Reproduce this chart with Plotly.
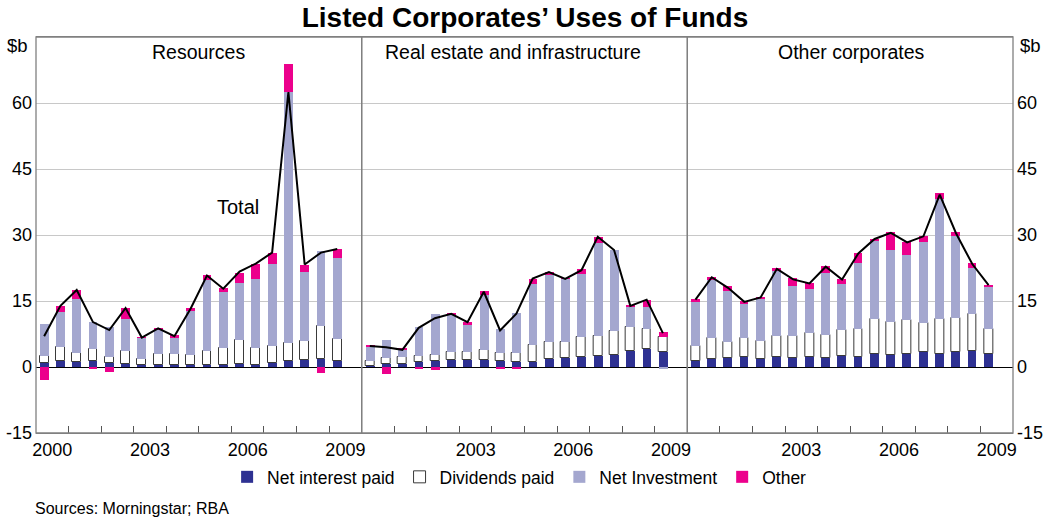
import plotly.graph_objects as go

# ---------------- data ----------------
periods = ["2000 H1", "2000 H2", "2001 H1", "2001 H2", "2002 H1", "2002 H2",
           "2003 H1", "2003 H2", "2004 H1", "2004 H2", "2005 H1", "2005 H2",
           "2006 H1", "2006 H2", "2007 H1", "2007 H2", "2008 H1", "2008 H2",
           "2009 H1"]

panel_titles = ["Resources", "Real estate and infrastructure", "Other corporates"]
series_names = ["Net interest paid", "Dividends paid", "Net Investment", "Other"]

res_interest = [1.0, 1.3, 1.1, 1.3, 0.8, 0.6, 0.5, 0.5, 0.4, 0.4, 0.4, 0.5, 0.6, 0.5, 0.8, 1.3, 1.6, 1.9, 1.3]
res_dividends = [1.5, 3.2, 2.1, 2.8, 1.4, 3.1, 1.3, 2.5, 2.6, 2.4, 3.3, 3.8, 5.5, 3.8, 4.0, 4.2, 4.2, 7.5, 5.1]
res_investment = [7.2, 7.9, 12.3, 6.2, 7.0, 7.1, 4.8, 5.6, 3.6, 9.9, 16.1, 12.8, 12.9, 15.7, 18.5, 57.1, 15.8, 17.0, 18.3]
res_other = [-3.0, 1.5, 2.0, -0.3, -1.1, 2.6, 0.1, 0.2, 0.6, 0.7, 1.1, 0.9, 2.4, 3.5, 2.7, 6.2, 1.6, -1.3, 2.1]
res_total = [7.0, 13.9, 17.5, 10.2, 8.4, 13.4, 6.7, 8.8, 7.0, 13.3, 20.8, 17.8, 21.7, 23.5, 26.0, 62.5, 23.3, 26.0, 26.8]

rei_interest = [0.15, 0.6, 0.75, 1.2, 1.4, 1.6, 1.5, 1.6, 1.4, 1.1, 1.1, 1.9, 2.1, 2.3, 2.5, 2.8, 3.7, 4.1, 3.3]
rei_dividends = [1.2, 1.4, 1.45, 1.4, 1.4, 1.8, 2.0, 2.3, 1.7, 2.1, 4.0, 3.7, 3.5, 4.6, 4.5, 5.4, 5.5, 4.6, 3.6]
rei_investment = [3.4, 4.2, 1.75, 6.4, 9.2, 8.5, 6.1, 12.5, 5.5, 9.0, 13.8, 15.4, 14.4, 14.2, 21.1, 18.4, 4.5, 4.9, -0.3]
rei_other = [0.15, -1.7, 0.15, -0.4, -0.7, 0.3, 0.6, 0.8, -0.45, -0.45, 1.2, 0.5, 0.1, 1.2, 1.5, 0.0, 0.2, 1.7, 1.0]
rei_total = [4.8, 4.5, 3.9, 8.9, 11.1, 12.1, 10.2, 17.1, 8.3, 12.1, 20.1, 21.6, 20.0, 22.0, 29.6, 26.6, 13.9, 15.3, 7.7]

oth_interest = [1.4, 1.8, 2.0, 2.3, 1.9, 2.2, 2.0, 2.3, 2.0, 2.6, 2.3, 2.9, 2.7, 3.0, 3.4, 3.0, 3.5, 3.7, 3.0]
oth_dividends = [3.4, 4.7, 3.6, 4.2, 3.9, 4.9, 5.0, 5.5, 5.3, 5.9, 6.4, 7.9, 7.5, 7.7, 6.7, 8.0, 7.6, 8.3, 5.7]
oth_investment = [9.9, 13.3, 11.7, 7.8, 9.8, 14.9, 11.4, 9.9, 14.0, 10.4, 15.0, 17.8, 16.5, 14.8, 18.4, 27.1, 18.7, 10.5, 9.6]
oth_other = [0.75, 0.6, 1.0, 0.6, 0.2, 0.4, 1.8, 1.3, 1.7, 1.0, 2.1, 0.5, 3.9, 2.8, 1.3, 1.5, 0.9, 1.1, 0.4]
oth_total = [15.3, 20.4, 18.0, 14.8, 15.8, 22.3, 19.9, 19.0, 22.8, 19.9, 25.8, 29.1, 30.5, 28.3, 29.7, 39.2, 30.4, 23.4, 18.6]

year_labels_first = ["2000", "2003", "2006", "2009"]
year_labels_other = ["2003", "2006", "2009"]
y_ticks = [-15, 0, 15, 30, 45, 60]
y_tick_text = ["-15", "0", "15", "30", "45", "60"]

# ---------------- styling ----------------
FONT = "Liberation Sans, Arial, sans-serif"
colors = ["#2E3192", "#FFFFFF", "#A4A7CF", "#EC008C"]
line_styles = [dict(width=0), dict(width=1, color="#3a3a3a"), dict(width=0), dict(width=0)]
FRAME = "#808080"


def period_x(p):
    yr, h = p.split()
    return int(yr) + (0.25 if h == "H1" else 0.75)


xs = [period_x(p) for p in periods]

panels = [
    ("x", "y", [res_interest, res_dividends, res_investment, res_other], res_total),
    ("x2", "y", [rei_interest, rei_dividends, rei_investment, rei_other], rei_total),
    ("x3", "y2", [oth_interest, oth_dividends, oth_investment, oth_other], oth_total),
]

fig = go.Figure()
for pi, (xa, ya, comps, total) in enumerate(panels):
    for si, vals in enumerate(comps):
        fig.add_trace(go.Bar(
            x=xs, y=vals, xaxis=xa, yaxis=ya, name=series_names[si],
            marker=dict(color=colors[si], line=line_styles[si]),
            width=0.27, legendgroup=series_names[si], showlegend=(pi == 0),
            offsetgroup=pi,
        ))
    fig.add_trace(go.Scatter(
        x=xs, y=total, xaxis=xa, yaxis=ya, mode="lines",
        line=dict(color="black", width=2), showlegend=False, name="Total",
    ))


def xaxis_style(labels):
    return dict(
        range=[2000, 2010], showline=True, linecolor=FRAME, linewidth=1.3, mirror=True,
        tickvals=[int(y) + 0.5 for y in labels], ticktext=labels,
        ticks="inside", ticklen=0, showgrid=False, zeroline=False, automargin=False,
        tickfont=dict(size=18, color="black", family=FONT),
        minor=dict(tickvals=list(range(2001, 2010)), ticks="inside", ticklen=7,
                   tickcolor="#555555", tickwidth=1, showgrid=False),
    )


yaxis_common = dict(
    range=[-15, 75], tickvals=y_ticks, ticktext=y_tick_text,
    showgrid=True, gridcolor="#C8C8C8", gridwidth=1,
    zeroline=True, zerolinecolor="black", zerolinewidth=1.3,
    showline=False, ticks="", ticklabelstandoff=3, automargin=False,
    tickfont=dict(size=18, color="black", family=FONT),
)

fig.update_layout(
    width=1050, height=519,
    margin=dict(l=36, r=37, t=37, b=86, autoexpand=False),
    paper_bgcolor="white", plot_bgcolor="white",
    barmode="relative", bargap=0,
    font=dict(family=FONT, color="black"),
    title=dict(text="<b>Listed Corporates’ Uses of Funds</b>", x=0.5, xanchor="center",
               y=1 - 17 / 519, yanchor="middle", font=dict(size=28, family=FONT, color="black")),
    xaxis=dict(domain=[0, 1 / 3], anchor="y", **xaxis_style(year_labels_first)),
    xaxis2=dict(domain=[1 / 3, 2 / 3], anchor="y", **xaxis_style(year_labels_other)),
    xaxis3=dict(domain=[2 / 3, 1], anchor="y2", **xaxis_style(year_labels_other)),
    yaxis=dict(anchor="x", side="left", **yaxis_common),
    yaxis2=dict(anchor="x3", side="right", **yaxis_common),
    legend=dict(orientation="h", x=0.495, xanchor="center", y=-0.111, yanchor="middle",
                font=dict(size=17.5, family=FONT, color="black"), traceorder="normal",
                bgcolor="rgba(0,0,0,0)"),
    showlegend=True,
)

for xa in ["x", "x2", "x3"]:
    fig.add_shape(type="rect", xref=f"{xa} domain", yref="paper", x0=0, x1=1, y0=0, y1=1,
                  line=dict(color=FRAME, width=1.3), layer="above")

title_pos = [0.5, 0.465, 0.505]
for xa, t, tx in zip(["x", "x2", "x3"], panel_titles, title_pos):
    fig.add_annotation(text=t, xref=f"{xa} domain", x=tx, yref="paper", y=(433 - 52) / 396,
                       showarrow=False, xanchor="center", yanchor="middle",
                       font=dict(size=19.5, family=FONT, color="black"))

fig.add_annotation(text="$b", xref="paper", yref="paper", x=(17 - 36) / 977, y=(433 - 45) / 396,
                   showarrow=False, xanchor="center", yanchor="middle",
                   font=dict(size=18.5, family=FONT, color="black"))
fig.add_annotation(text="$b", xref="paper", yref="paper", x=(1030 - 36) / 977, y=(433 - 45) / 396,
                   showarrow=False, xanchor="center", yanchor="middle",
                   font=dict(size=18.5, family=FONT, color="black"))

fig.add_annotation(text="Total", xref="x", yref="y", x=2006.2, y=36.4, showarrow=False,
                   xanchor="center", yanchor="middle", font=dict(size=20, family=FONT, color="black"))

fig.add_annotation(text="Sources: Morningstar; RBA", xref="paper", yref="paper",
                   x=(33 - 36) / 977, y=(433 - 508) / 396, showarrow=False,
                   xanchor="left", yanchor="middle", font=dict(size=16, family=FONT, color="black"))

fig.write_html("out.html", config={"displayModeBar": False},
               post_script="document.body.style.margin='0';document.body.style.padding='0';")
